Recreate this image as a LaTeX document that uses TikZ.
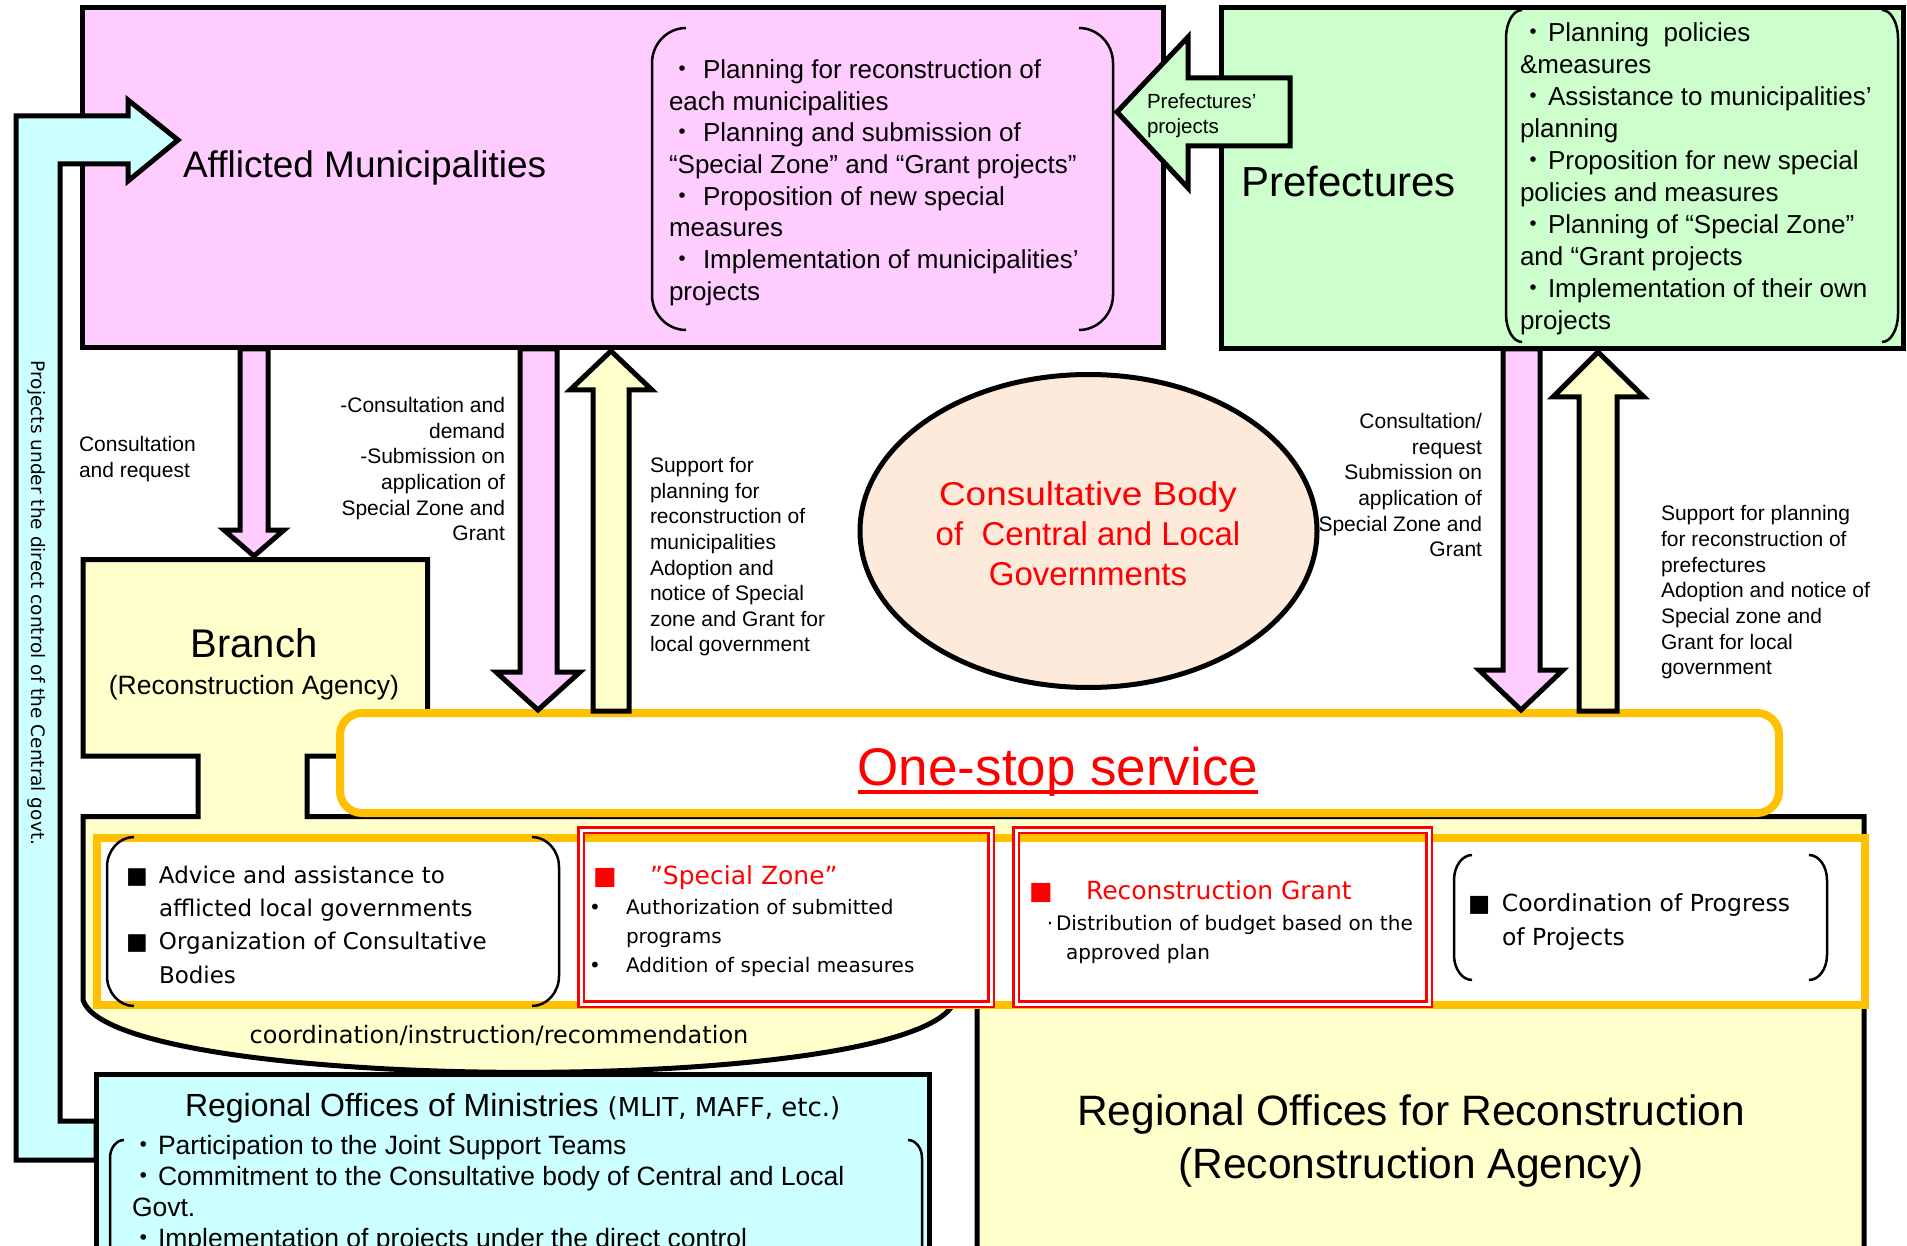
\documentclass[tikz,border=0pt]{standalone}
\usepackage{graphicx}
\usepackage{fontspec}
\setmainfont{Liberation Sans}
\newfontfamily\dvf{DejaVu Sans}
\newfontfamily\cjkf{Noto Sans CJK JP}
\usetikzlibrary{shapes.geometric}
\newcommand\fs[2]{\fontsize{#1}{#2}\selectfont}
\newcommand\ts{\rule{0pt}{0.9em}}
\newcommand\bdot[2]{\makebox[#1][c]{\cjkf ・}\hspace*{#2}}
\definecolor{pinkf}{HTML}{FFCCFF}
\definecolor{greenf}{HTML}{CCFFCC}
\definecolor{cyanf}{HTML}{CCFFFF}
\definecolor{yellowf}{HTML}{FFFFCC}
\definecolor{peachf}{HTML}{FDEADA}
\definecolor{orangef}{HTML}{FFC000}
\definecolor{redf}{HTML}{FF0000}
\tikzset{
  box/.style={draw=black, line width=5pt, line join=miter, outer sep=0pt, inner sep=0pt},
  barrow/.style={draw=black, line width=5pt, line join=miter, miter limit=10},
  brline/.style={draw=black, line width=2.5pt},
  tx/.style={inner sep=0pt, outer sep=0pt},
  blkL/.style={tx, align=left, anchor=north west},
  blkR/.style={tx, align=right, anchor=north east},
  blkC/.style={tx, align=center, anchor=north},
  redbox/.style={draw=redf, double=white, double distance=3pt, line width=2.5pt, outer sep=0pt, inner sep=0pt},
  orangebox/.style={draw=orangef, line width=8pt, fill=white, outer sep=0pt, inner sep=0pt},
}
\newcommand\bracketpair[6]{%
 \draw[brline] ({#1+#5},#3) .. controls ({#1+0.45*#5},#3) and (#1,{#3+0.45*#6}) .. (#1,{#3+#6}) -- (#1,{#4-#6}) .. controls (#1,{#4-0.45*#6}) and ({#1+0.45*#5},#4) .. ({#1+#5},#4);
 \draw[brline] ({#2-#5},#3) .. controls ({#2-0.45*#5},#3) and (#2,{#3+0.45*#6}) .. (#2,{#3+#6}) -- (#2,{#4-#6}) .. controls (#2,{#4-0.45*#6}) and ({#2-0.45*#5},#4) .. ({#2-#5},#4);}
\begin{document}
\begin{tikzpicture}[x=1pt,y=-1pt]
\useasboundingbox (0,0) rectangle (1907,1246);
\clip (0,0) rectangle (1907,1246);
\fill[white] (0,0) rectangle (1907,1246);

% ---------- top boxes
\node[box, fill=pinkf, minimum width=1081pt, minimum height=340.5pt, anchor=north west] (muni) at (82,7.5) {};
\node[box, fill=greenf, minimum width=682pt, minimum height=341.5pt, anchor=north west] (pref) at (1221,7.5) {};

\bracketpair{652}{1113}{28}{330}{34}{35}
\bracketpair{1506}{1898}{10}{342}{16}{28}

\node[blkL, font=\fs{26}{31.7}] (munitxt) at (669,{69-14}) {\ts\bdot{26pt}{8pt}Planning for reconstruction of\\each municipalities\\\bdot{26pt}{8pt}Planning and submission of\\“Special Zone” and “Grant projects”\\\bdot{26pt}{8pt}Proposition of new special\\measures\\\bdot{26pt}{8pt}Implementation of municipalities’\\projects};

\node[blkL, font=\fs{26}{32}] (preftxt) at (1520,{32-14}) {\ts\bdot{26pt}{2pt}Planning\ \ policies\\\&measures\\\bdot{26pt}{2pt}Assistance to municipalities’\\planning\\\bdot{26pt}{2pt}Proposition for new special\\policies and measures\\\bdot{26pt}{2pt}Planning of “Special Zone”\\and “Grant projects\\\bdot{26pt}{2pt}Implementation of their own\\projects};

% ---------- cyan L arrow
\draw[barrow, fill=cyanf] (96,1121) -- (60,1121) -- (60,164) -- (128,164) -- (128,181) -- (178,140) -- (128,100) -- (128,116) -- (16,116) -- (16,1160) -- (96,1160) -- cycle;
\node[tx, font=\dvf\fs{18.5}{22}, rotate=-90, text height=13.5pt, text depth=0pt] (ctrltxt) at (38.5,603) {Projects under the direct control of the Central govt.};

\node[blkL, font=\fs{37}{40}] (munititle) at (183,{164-20}) {\ts Afflicted Municipalities};
\node[blkL, font=\fs{42}{46}] (preftitle) at (1241,{181-22.7}) {\ts Prefectures};

% ---------- prefectures' projects arrow
\draw[barrow, fill=greenf] (1117,112) -- (1188,37) -- (1188,78) -- (1290,78) -- (1290,146) -- (1188,146) -- (1188,188) -- cycle;
\node[blkL, font=\fs{20.5}{25}] (pptxt) at (1147,{101-11.1}) {\ts Prefectures’\\projects};

% ---------- branch + lower yellow structure
\draw[box, fill=yellowf] (83,559.5) -- (427.5,559.5) -- (427.5,756) -- (307,756) -- (307,816.5) -- (1864,816.5) -- (1864,1270) -- (977,1270) -- (977,1000) -- (955,1000) .. controls (925,1098) and (113,1095) .. (83,1000) -- (83,816.5) -- (198,816.5) -- (198,756) -- (83,756) -- cycle;

\node[blkC, font=\fs{40}{44}] (brtitle) at (254,{643-21.6}) {\ts Branch};
\node[blkC, font=\fs{26.5}{30}] (brsub) at (254,{685-14.3}) {\ts(Reconstruction Agency)};

\node[blkC, font=\fs{42.5}{53}] (rotxt) at (1411,{1110-23}) {\ts Regional Offices for Reconstruction\\(Reconstruction Agency)};

\node[blkC, font=\dvf\fs{24}{28}] (coord) at (499,{1035-13}) {\ts coordination/instruction/recommendation};

% ---------- ministries
\node[box, fill=cyanf, minimum width=833.5pt, minimum height=220pt, anchor=north west] (mini) at (96,1074.5) {};
\bracketpair{110}{922}{1140}{1330}{14}{18}
\node[blkL, font=\fs{32}{36}] (minititle) at (185,{1105-17.3}) {\ts Regional Offices of Ministries {\dvf\fontsize{26}{36}\selectfont(MLIT, MAFF, etc.)}};
\node[blkL, font=\fs{26.5}{31}] (minitxt) at (131,{1145-14.3}) {\ts\bdot{26pt}{1pt}Participation to the Joint Support Teams\\\bdot{26pt}{1pt}Commitment to the Consultative body of Central and Local\\\hspace*{1pt}Govt.\\\bdot{26pt}{1pt}Implementation of projects under the direct control};

% ---------- function strip
\node[orangebox, minimum width=1768pt, minimum height=167.5pt, anchor=north west] (strip) at (97,837.5) {};

\bracketpair{107}{559}{837}{1006}{27}{30}
\node[blkL, font=\dvf\fs{23}{33.3}] (atxt) at (126,{875-12.4}) {\ts\makebox[33pt][l]{■}Advice and assistance to\\\hspace*{33pt}afflicted local governments\\\makebox[33pt][l]{■}Organization of Consultative\\\hspace*{33pt}Bodies};

\node[redbox, minimum width=410pt, minimum height=174pt, anchor=north west] (sz) at (581,830) {};
\node[blkL, font=\dvf\fs{25}{30}, text=redf] (sztitle) at (593,{875-13.5}) {\ts\makebox[57pt][l]{■}”Special Zone”};
\node[blkL, font=\dvf\fs{20}{29}] (sztxt) at (589,{907-10.8}) {\ts\makebox[37pt][l]{•}Authorization of submitted\\\hspace*{37pt}programs\\\makebox[37pt][l]{•}Addition of special measures};

\node[redbox, minimum width=413pt, minimum height=174pt, anchor=north west] (rg) at (1016,830) {};
\node[blkL, font=\dvf\fs{25}{30}, text=redf] (rgtitle) at (1029,{890-13.5}) {\ts\makebox[57pt][l]{■}Reconstruction Grant};
\node[blkL, font=\dvf\fs{20}{29}] (rgtxt) at (1044,{923-10.8}) {\ts\makebox[12pt][c]{·}Distribution of budget based on the\\\hspace*{22pt}approved plan};

\bracketpair{1454}{1827}{855}{980}{18}{25}
\node[blkL, font=\dvf\fs{23.5}{34}] (cptxt) at (1468,{903-12.7}) {\ts\makebox[34pt][l]{■}Coordination of Progress\\\hspace*{34pt}of Projects};

% ---------- one-stop service
\node[orangebox, rounded corners=22pt, minimum width=1439pt, minimum height=100pt, anchor=north west] (onestop) at (340,713) {};
\node[tx, anchor=base, font=\fs{53}{60}, text=redf] (ostxt) at (1058,785) {One-stop service};
\draw[redf, line width=4pt] ([yshift=-7pt]ostxt.base west) -- ([yshift=-7pt]ostxt.base east);

% ---------- vertical block arrows
\draw[barrow, fill=pinkf] (240,349) -- (240,530) -- (224,530) -- (254,556) -- (284,530) -- (268,530) -- (268,349) -- cycle;
\draw[barrow, fill=pinkf] (520,349) -- (520,672) -- (496,672) -- (538,710) -- (580,672) -- (557,672) -- (557,349) -- cycle;
\draw[barrow, fill=yellowf] (593,711) -- (593,390) -- (570,390) -- (611,351) -- (652,390) -- (629,390) -- (629,711) -- cycle;
\draw[barrow, fill=pinkf] (1503,349) -- (1503,670) -- (1479,670) -- (1521,710) -- (1563,670) -- (1540,670) -- (1540,349) -- cycle;
\draw[barrow, fill=yellowf] (1579,711) -- (1579,397) -- (1553,397) -- (1598,352) -- (1644,397) -- (1617,397) -- (1617,711) -- cycle;

% ---------- arrow labels
\node[blkL, font=\fs{21}{26}] (lab1) at (79,{444-11.3}) {\ts Consultation\\and request};
\node[blkR, font=\fs{21}{25.6}] (lab2) at (505,{405-11.3}) {\ts-Consultation and\\demand\\-Submission on\\application of\\Special Zone and\\Grant};
\node[blkL, font=\fs{21}{25.6}] (lab3) at (650,{465-11.3}) {\ts Support for\\planning for\\reconstruction of\\municipalities\\Adoption and\\notice of Special\\zone and Grant for\\local government};
\node[blkR, font=\fs{21}{25.6}] (lab4) at (1482,{421-11.3}) {\ts Consultation/\\request\\Submission on\\application of\\Special Zone and\\Grant};
\node[blkL, font=\fs{21}{25.7}] (lab5) at (1661,{513-11.3}) {\ts Support for planning\\for reconstruction of\\prefectures\\Adoption and notice of\\Special zone and\\Grant for local\\government};

% ---------- consultative body
\node[draw=black, line width=5pt, fill=peachf, ellipse, minimum width=457pt, minimum height=313pt, inner sep=0pt] (cb) at (1088.5,531) {};
\node[blkC, font=\fs{33}{40}, text=redf] (cbtxt) at (1088,{494-17.8}) {\ts\scalebox{1.12}[1]{Consultative Body}\\of\ \ Central and Local\\Governments};
\end{tikzpicture}
\end{document}
